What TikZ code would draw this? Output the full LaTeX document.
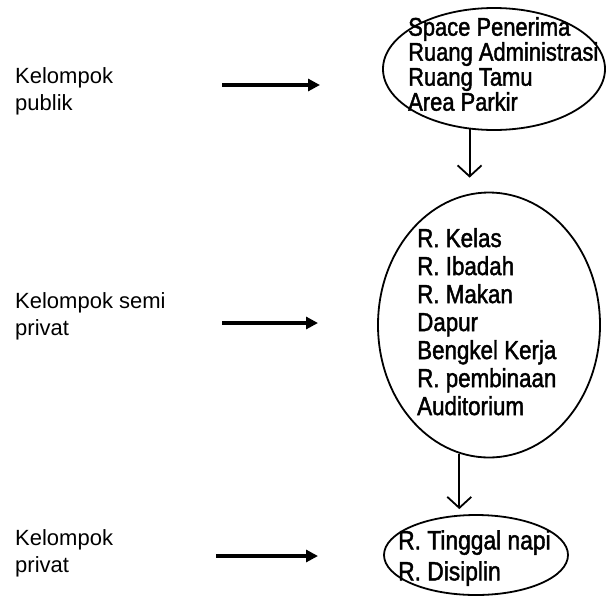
\documentclass[tikz,border=0pt]{standalone}
\usepackage{fontspec}
\setmainfont{Liberation Sans}
\newfontfamily\narrowf[FakeStretch=0.86,FakeBold=1.6]{Liberation Sans}
\usetikzlibrary{arrows.meta,shapes.geometric}
\begin{document}
\begin{tikzpicture}[x=1pt,y=-1pt,
  lbl/.style={anchor=north west,align=left,inner sep=0pt,font=\fontsize{22}{27}\selectfont},
  zone/.style={draw,ellipse,line width=1.8pt,inner sep=0pt},
  items/.style={anchor=north west,align=left,inner sep=0pt},
  harrow/.style={line width=3.2pt,-{Triangle[length=12pt,width=12pt]}},
  varrow/.style={line width=1.8pt,-{Straight Barb[length=11pt,width=24pt,line width=1.8pt]}}]
\useasboundingbox (0,0) rectangle (610,595);
\fill[white] (0,0) rectangle (610,595);
% ellipses
\node[zone,minimum width=222pt,minimum height=122pt] (e1) at (494,69) {};
\node[zone,minimum width=222pt,minimum height=265pt] (e2) at (489,325) {};
\node[zone,minimum width=184pt,minimum height=80pt] (e3) at (476,555) {};
% ellipse texts
\node[items,font=\narrowf\fontsize{25.5}{25}\selectfont] (t1) at (408,17)
  {Space Penerima\\Ruang Administrasi\\Ruang Tamu\\Area Parkir};
\node[items,font=\narrowf\fontsize{26}{28}\selectfont] (t2) at (417,228)
  {R. Kelas\\R. Ibadah\\R. Makan\\Dapur\\Bengkel Kerja\\R. pembinaan\\Auditorium};
\node[items,font=\narrowf\fontsize{26.5}{31}\selectfont] (t3) at (398,530)
  {R. Tinggal napi\\R. Disiplin};
% left labels
\node[lbl] (l1) at (15,67) {Kelompok\\publik};
\node[lbl] (l2) at (15,292) {Kelompok semi\\privat};
\node[lbl] (l3) at (15,529) {Kelompok\\privat};
% horizontal arrows
\coordinate (a1s) at (222,85);  \coordinate (a1e) at (320,85);
\coordinate (a2s) at (222,323); \coordinate (a2e) at (318,323);
\coordinate (a3s) at (216,556); \coordinate (a3e) at (318,556);
\draw[harrow] (a1s) -- (a1e);
\draw[harrow] (a2s) -- (a2e);
\draw[harrow] (a3s) -- (a3e);
% vertical arrows
\draw[varrow,shorten >=14pt] (e1.-112) -- (e1.-112 |- e2.north);
\draw[varrow,shorten >=5pt] (e2.-103) -- (e2.-103 |- e3.north);
\end{tikzpicture}
\end{document}
